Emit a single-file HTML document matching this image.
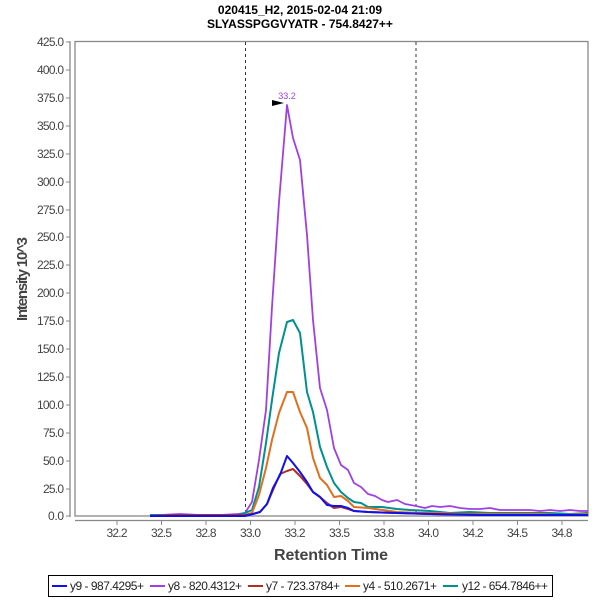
<!DOCTYPE html>
<html><head><style>body{margin:0;background:#fff}svg{display:block;font-family:"Liberation Sans",sans-serif}</style></head><body>
<svg width="600" height="600" viewBox="0 0 600 600">
<text x="300" y="14" font-size="12" font-weight="bold" text-anchor="middle" fill="#000">020415_H2, 2015-02-04 21:09</text>
<text x="300" y="28" font-size="12" font-weight="bold" text-anchor="middle" fill="#000">SLYASSPGGVYATR - 754.8427++</text>
<g stroke="#888" stroke-width="1.3" fill="none">
<line x1="70" y1="41" x2="70" y2="517"/>
<rect x="75" y="41.5" width="513" height="474.5"/>
<line x1="75" y1="520.5" x2="588" y2="520.5"/>
</g>
<g stroke="#888" stroke-width="1">
<line x1="66" y1="42" x2="70" y2="42"/><line x1="66" y1="70" x2="70" y2="70"/><line x1="66" y1="98" x2="70" y2="98"/><line x1="66" y1="126" x2="70" y2="126"/><line x1="66" y1="154" x2="70" y2="154"/><line x1="66" y1="182" x2="70" y2="182"/><line x1="66" y1="210" x2="70" y2="210"/><line x1="66" y1="237" x2="70" y2="237"/><line x1="66" y1="265" x2="70" y2="265"/><line x1="66" y1="293" x2="70" y2="293"/><line x1="66" y1="321" x2="70" y2="321"/><line x1="66" y1="349" x2="70" y2="349"/><line x1="66" y1="377" x2="70" y2="377"/><line x1="66" y1="405" x2="70" y2="405"/><line x1="66" y1="433" x2="70" y2="433"/><line x1="66" y1="461" x2="70" y2="461"/><line x1="66" y1="489" x2="70" y2="489"/><line x1="66" y1="516" x2="70" y2="516"/>
<line x1="117" y1="521" x2="117" y2="525"/><line x1="161.5" y1="521" x2="161.5" y2="525"/><line x1="206" y1="521" x2="206" y2="525"/><line x1="250.5" y1="521" x2="250.5" y2="525"/><line x1="295" y1="521" x2="295" y2="525"/><line x1="339.5" y1="521" x2="339.5" y2="525"/><line x1="384" y1="521" x2="384" y2="525"/><line x1="428.5" y1="521" x2="428.5" y2="525"/><line x1="473" y1="521" x2="473" y2="525"/><line x1="517.5" y1="521" x2="517.5" y2="525"/><line x1="562" y1="521" x2="562" y2="525"/>
</g>
<g font-size="12" fill="#444" text-anchor="end">
<text x="64" y="46" textLength="27">425.0</text><text x="64" y="74" textLength="27">400.0</text><text x="64" y="102" textLength="27">375.0</text><text x="64" y="130" textLength="27">350.0</text><text x="64" y="158" textLength="27">325.0</text><text x="64" y="186" textLength="27">300.0</text><text x="64" y="214" textLength="27">275.0</text><text x="64" y="241" textLength="27">250.0</text><text x="64" y="269" textLength="27">225.0</text><text x="64" y="297" textLength="27">200.0</text><text x="64" y="325" textLength="27">175.0</text><text x="64" y="353" textLength="27">150.0</text><text x="64" y="381" textLength="27">125.0</text><text x="64" y="409" textLength="27">100.0</text><text x="64" y="437" textLength="21">75.0</text><text x="64" y="465" textLength="21">50.0</text><text x="64" y="493" textLength="21">25.0</text><text x="64" y="520" textLength="16">0.0</text>
</g>
<g font-size="12" fill="#444" text-anchor="middle">
<text x="117" y="537" textLength="21">32.2</text><text x="161.5" y="537" textLength="21">32.5</text><text x="206" y="537" textLength="21">32.8</text><text x="250.5" y="537" textLength="21">33.0</text><text x="295" y="537" textLength="21">33.2</text><text x="339.5" y="537" textLength="21">33.5</text><text x="384" y="537" textLength="21">33.8</text><text x="428.5" y="537" textLength="21">34.0</text><text x="473" y="537" textLength="21">34.2</text><text x="517.5" y="537" textLength="21">34.5</text><text x="562" y="537" textLength="21">34.8</text>
</g>
<text x="331" y="560" font-size="16" font-weight="bold" fill="#444" text-anchor="middle" textLength="114">Retention Time</text>
<text transform="translate(27,279) rotate(-90)" font-size="15" font-weight="bold" fill="#444" text-anchor="middle" textLength="84">Intensity 10^3</text>
<g stroke="#333" stroke-dasharray="3,3" stroke-width="1"><line x1="245.5" y1="42" x2="245.5" y2="516"/><line x1="416" y1="42" x2="416" y2="516"/></g>
<g fill="none" stroke-width="2" stroke-linejoin="round">
<polyline stroke="#a040e0" stroke-width="1.8" points="150,516 160,515 180,514 200,515 220,515 238,514 245,513 252,502 259,460 266,410 272,307 279,202 287,105 293,138 300,160 307,235 313,320 320,388 327,410 334,448 341,465 348,470 354,483 361,487 368,494 375,496 382,500 388,502 397,500 405,504 416,506 425,508 432,506 440,507 450,506 460,508 470,509 480,509 490,508 500,510 510,510 520,510 530,510 540,511 550,510 560,511 570,510 580,511 588,511"/>
<polyline stroke="#009090" points="150,515 160,515 180,515 200,515 220,515 238,515 245,513 252,510 259,487 266,443 272,400 279,353 287,322 293,320 300,333 307,392 313,412 320,447 327,467 334,483 341,492 348,498 354,502 361,503 368,507 382,507 397,509 410,510 430,511 450,513 470,512 490,513 510,513 530,513 550,513 570,514 588,513"/>
<polyline stroke="#e07020" points="150,516 170,515 190,515 210,515 230,515 245,515 252,513 259,495 266,468 272,440 279,413 287,392 293,392 300,412 307,428 313,458 320,478 327,485 334,497 341,496 348,501 354,507 368,508 397,512 420,513 440,513 460,514 480,514 500,514 520,514 540,514 560,515 588,514"/>
<polyline stroke="#b03020" points="150,516 170,515 190,515 210,515 230,515 245,515 253,514 260,512 267,504 273,490 280,474 287,471 293,469 300,476 307,484 313,492 320,497 327,503 334,508 341,507 348,509 354,511 368,512 397,513 430,514 480,515 530,515 588,515"/>
<polyline stroke="#1010ee" points="150,516 170,516 190,516 210,516 230,516 245,516 253,514 260,512 267,504 273,488 280,475 287,456 293,463 300,472 307,482 313,492 320,497 327,505 334,506 341,506 348,508 354,511 368,512 397,513 430,514 480,515 530,515 588,515"/>
</g>
<polygon points="272,100 284,103 272,106" fill="#000"/>
<text x="287" y="99" font-size="9" fill="#a040e0" text-anchor="middle">33.2</text>
<rect x="48.5" y="575.5" width="504" height="21" fill="#fff" stroke="#000" stroke-width="1"/>
<g font-size="12" fill="#222">
<line x1="52" y1="586" x2="67" y2="586" stroke="#1010ee" stroke-width="2"/><text x="70" y="590" textLength="74">y9 - 987.4295+</text>
<line x1="150" y1="586" x2="165" y2="586" stroke="#a040e0" stroke-width="2"/><text x="168" y="590" textLength="74">y8 - 820.4312+</text>
<line x1="248" y1="586" x2="263" y2="586" stroke="#b03020" stroke-width="2"/><text x="266" y="590" textLength="74">y7 - 723.3784+</text>
<line x1="345" y1="586" x2="360" y2="586" stroke="#e07020" stroke-width="2"/><text x="363" y="590" textLength="74">y4 - 510.2671+</text>
<line x1="443" y1="586" x2="458" y2="586" stroke="#009090" stroke-width="2"/><text x="462" y="590" textLength="86">y12 - 654.7846++</text>
</g>
</svg>
</body></html>
